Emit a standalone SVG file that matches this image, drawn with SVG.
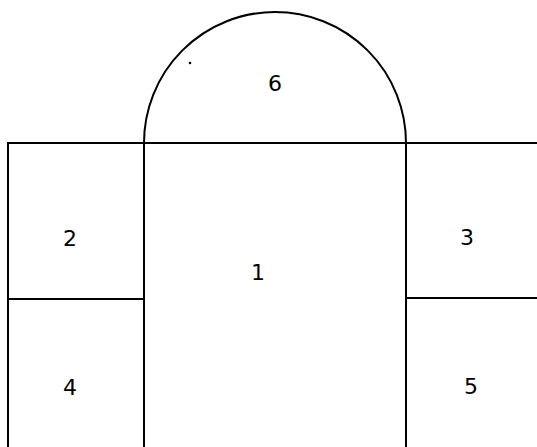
<svg xmlns="http://www.w3.org/2000/svg" width="537" height="447" viewBox="0 0 537 447">
<style>
.ln{stroke:#000;stroke-width:2;fill:none;stroke-linecap:square}
.lb{font-family:"DejaVu Sans",sans-serif;font-size:22px;fill:#000;text-anchor:middle}
</style>
<rect width="537" height="447" fill="#fff"/>
<g id="room6">
<path class="ln" d="M144,143 A131,131 0 0 1 406,143"/>
<text class="lb" x="275" y="91">6</text>
<circle cx="190" cy="63" r="1.3" fill="#000"/>
</g>
<g id="room1">
<path class="ln" d="M144,143 H406 M144,143 V447 M406,143 V447"/>
<text class="lb" x="258" y="280">1</text>
</g>
<g id="room2">
<path class="ln" d="M8,143 H144 M8,143 V447 M8,299 H144"/>
<text class="lb" x="70" y="246">2</text>
</g>
<g id="room3">
<path class="ln" d="M406,143 H537 M406,298 H537"/>
<text class="lb" x="467" y="245">3</text>
</g>
<g id="room4">
<text class="lb" x="70" y="395">4</text>
</g>
<g id="room5">
<text class="lb" x="471" y="394">5</text>
</g>
</svg>
